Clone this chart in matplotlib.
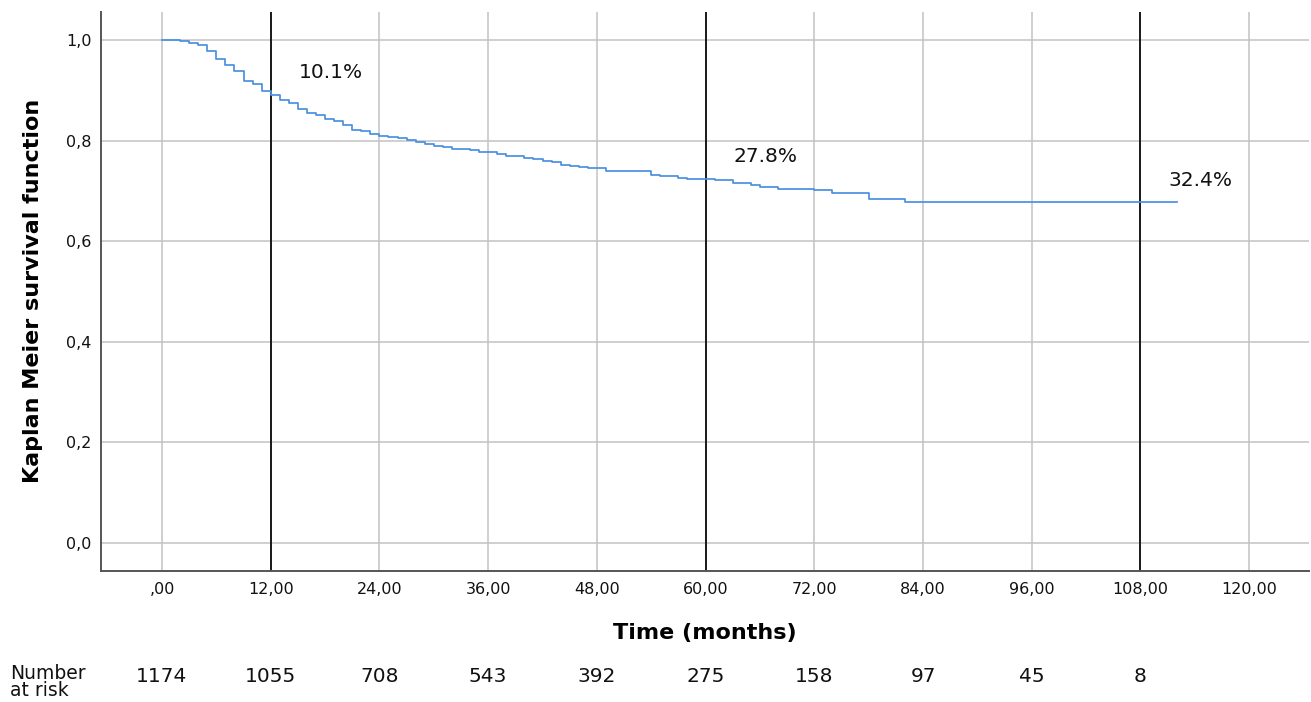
import matplotlib
matplotlib.use("Agg")
import matplotlib.pyplot as plt
import matplotlib.transforms as mtransforms
import numpy as np

# Kaplan-Meier step curve
months = [0, 2, 3, 4, 5, 6, 7, 8, 9, 10, 11, 12, 13, 14, 15, 16, 17, 18, 19, 20,
          21, 22, 23, 24, 25, 26, 27, 28, 29, 30, 31, 32, 33, 34, 35, 36, 37, 38,
          40, 41, 42, 43, 44, 45, 46, 47, 48, 49, 54, 55, 57, 58, 61, 63, 65, 66,
          68, 72, 74, 78, 82, 112]
survival = [1.000, 0.998, 0.995, 0.990, 0.979, 0.962, 0.951, 0.938, 0.918, 0.912,
            0.899, 0.891, 0.881, 0.874, 0.863, 0.855, 0.850, 0.842, 0.838, 0.831,
            0.822, 0.820, 0.8125, 0.810, 0.808, 0.805, 0.802, 0.798, 0.793, 0.789,
            0.788, 0.784, 0.783, 0.781, 0.778, 0.777, 0.773, 0.769, 0.765, 0.763,
            0.760, 0.757, 0.752, 0.750, 0.748, 0.746, 0.745, 0.740, 0.732, 0.729,
            0.726, 0.724, 0.721, 0.716, 0.712, 0.708, 0.704, 0.702, 0.696, 0.684,
            0.677, 0.677]

# marked time points and the mortality labels
mark_months = [12, 60, 108]
mark_labels = ["10.1%", "27.8%", "32.4%"]

x_ticks = [0, 12, 24, 36, 48, 60, 72, 84, 96, 108, 120]
x_ticklabels = [",00", "12,00", "24,00", "36,00", "48,00", "60,00", "72,00",
                "84,00", "96,00", "108,00", "120,00"]
y_ticks = [0.0, 0.2, 0.4, 0.6, 0.8, 1.0]
y_ticklabels = ["0,0", "0,2", "0,4", "0,6", "0,8", "1,0"]

risk_months = [0, 12, 24, 36, 48, 60, 72, 84, 96, 108]
at_risk = [1174, 1055, 708, 543, 392, 275, 158, 97, 45, 8]

plt.rcParams['font.family'] = ['DejaVu Sans']

W, H = 1311, 702
fig = plt.figure(figsize=(W / 100, H / 100), dpi=100)
ax = fig.add_axes([101 / W, 1 - 571 / H, 1208 / W, 559 / H])

ax.set_xlim(-6.73, 126.6)
ax.set_ylim(-0.0557, 1.0557)

ax.grid(True, color='#c2c2c2', linewidth=1.1)
ax.set_axisbelow(True)

for m in mark_months:
    ax.axvline(m, color='#1a1a1a', linewidth=1.4, zorder=2)

ax.step(months, survival, where='post', color='#4a90e0', linewidth=1.25, zorder=3)

surv_arr = np.array(survival)
for m, lab in zip(mark_months, mark_labels):
    s = surv_arr[np.searchsorted(months, m, side='right') - 1]
    ax.annotate(lab, xy=(m, s), xytext=(20, 16), textcoords='offset points',
                fontsize=14.5, ha='left', va='center', color='#111111')

ax.set_xticks(x_ticks)
ax.set_xticklabels(x_ticklabels)
ax.set_yticks(y_ticks)
ax.set_yticklabels(y_ticklabels)
ax.tick_params(axis='both', length=0, labelsize=11.5, colors='#111111')
ax.tick_params(axis='x', pad=8)
ax.tick_params(axis='y', pad=7)

for side in ['top', 'right']:
    ax.spines[side].set_visible(False)
for side in ['left', 'bottom']:
    ax.spines[side].set_color('#555555')
    ax.spines[side].set_linewidth(1.4)

fig.text(705 / W, 1 - 633 / H, "Time (months)", ha='center', va='center',
         fontsize=16, fontweight='bold')
fig.text(33 / W, 1 - 291 / H, "Kaplan Meier survival function", ha='center',
         va='center', rotation=90, fontsize=16, fontweight='bold')

# number at risk row
trans = mtransforms.blended_transform_factory(ax.transData, fig.transFigure)
for m, n in zip(risk_months, at_risk):
    fig.text(m, 1 - 676 / H, str(n), transform=trans, ha='center', va='center',
             fontsize=14.5, color='#111111')
fig.text(10 / W, 1 - 682 / H, "Number\nat risk", ha='left', va='center',
         fontsize=13.5, linespacing=0.85, color='#111111')

fig.savefig("out.png", dpi=100)
